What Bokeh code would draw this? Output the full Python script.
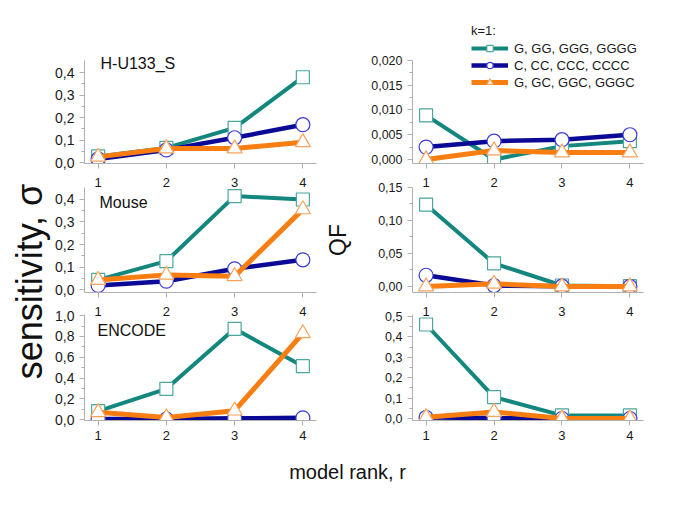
import numpy as np
from bokeh.plotting import figure
from bokeh.models import Range1d, FixedTicker, LinearAxis, Label, Legend, LegendItem
from bokeh.layouts import row, column
from bokeh.embed import file_html
from bokeh.resources import INLINE

# ---------------- data ----------------
ranks = [1, 2, 3, 4]
series_names = ["G, GG, GGG, GGGG", "C, CC, CCC, CCCC", "G, GC, GGC, GGGC"]
panel_names = ["H-U133_S", "Mouse", "ENCODE"]

# sensitivity (left column)
sens_hu133_g = [0.027, 0.065, 0.154, 0.379]
sens_hu133_c = [0.016, 0.056, 0.110, 0.168]
sens_hu133_gc = [0.025, 0.062, 0.062, 0.090]

sens_mouse_g = [0.043, 0.126, 0.415, 0.400]
sens_mouse_c = [0.018, 0.037, 0.092, 0.132]
sens_mouse_gc = [0.042, 0.065, 0.059, 0.356]

sens_encode_g = [0.080, 0.296, 0.874, 0.514]
sens_encode_c = [0.005, 0.004, 0.012, 0.016]
sens_encode_gc = [0.070, 0.020, 0.085, 0.830]

# QF (right column)
qf_hu133_g = [0.0089, 0.0000, 0.0027, 0.0037]
qf_hu133_c = [0.0025, 0.0037, 0.0040, 0.0050]
qf_hu133_gc = [0.0000, 0.0018, 0.0014, 0.0014]

qf_mouse_g = [0.124, 0.035, 0.0015, 0.0005]
qf_mouse_c = [0.017, 0.0015, 0.0005, 0.0]
qf_mouse_gc = [0.0, 0.004, 0.0, 0.0]

qf_encode_g = [0.461, 0.105, 0.015, 0.015]
qf_encode_c = [0.005, 0.002, 0.0, 0.0]
qf_encode_gc = [0.006, 0.032, 0.0, 0.0]

# tick values / labels
sens_ticks_a = [0.0, 0.1, 0.2, 0.3, 0.4]
sens_labels_a = ["0,0", "0,1", "0,2", "0,3", "0,4"]
sens_ticks_b = [0.0, 0.2, 0.4, 0.6, 0.8, 1.0]
sens_labels_b = ["0,0", "0,2", "0,4", "0,6", "0,8", "1,0"]
qf_ticks_1 = [0.0, 0.005, 0.010, 0.015, 0.020]
qf_labels_1 = ["0,000", "0,005", "0,010", "0,015", "0,020"]
qf_ticks_2 = [0.0, 0.05, 0.10, 0.15]
qf_labels_2 = ["0,00", "0,05", "0,10", "0,15"]
qf_ticks_3 = [0.0, 0.1, 0.2, 0.3, 0.4, 0.5]
qf_labels_3 = ["0,0", "0,1", "0,2", "0,3", "0,4", "0,5"]

y_title_left = "sensitivity, σ"
y_title_right = "QF"
x_title = "model rank, r"
legend_title = "k=1:"

# ---------------- style ----------------
FONT = "Liberation Sans"
COLORS = ["#13877e", "#0a0a96", "#f97e12"]
OUTLINES = ["#4aa79f", "#3a3ad6", "#f7a25a"]
MARKERS = ["square", "circle", "triangle"]
SIZES = [13, 14, 15]
WIDTHS = [4, 4.5, 5]
AXIS_COLOR = "#b0b0b0"
TEXT_COLOR = "#1a1a1a"

ROWS = [
    dict(height=170, top=60, bottom=7),
    dict(height=128, top=17, bottom=6),
    dict(height=150, top=16, bottom=28),
]
ABOVE_STANDOFF = [None, 1, -1]
NAME_POS = [(16, 100), (15, 90), (13, 90)]


def minors(ticks):
    return [(a + b) / 2 for a, b in zip(ticks[:-1], ticks[1:])]


def blank_axis(side_label, size, standoff):
    ax = LinearAxis(ticker=FixedTicker(ticks=[]))
    ax.axis_line_color = None
    ax.major_tick_out = 0
    ax.major_tick_in = 0
    ax.minor_tick_out = 0
    ax.minor_tick_in = 0
    ax.major_label_standoff = 0
    ax.axis_label = side_label
    ax.axis_label_standoff = standoff
    ax.axis_label_text_font = FONT
    ax.axis_label_text_font_size = size
    ax.axis_label_text_font_style = "normal"
    ax.axis_label_text_color = "#111111"
    return ax


def make_panel(col, r, y_range, ticks, labels, y_font, data, name=None,
               top=None, bounds=None, ylabel=None):
    spec = ROWS[r]
    if col == 0:
        w, bl, br = 270, 31, 6
    else:
        w, bl, br = 355, 88, 34
    p = figure(width=w, height=spec["height"], x_range=Range1d(0.8, 4.2),
               y_range=Range1d(*y_range), output_backend="svg",
               toolbar_location=None, x_axis_location=None, y_axis_location=None,
               min_border_left=bl, min_border_right=br,
               min_border_top=spec["top"] if top is None else top,
               min_border_bottom=spec["bottom"])
    p.outline_line_color = None
    p.grid.visible = False

    yax = LinearAxis(ticker=FixedTicker(ticks=ticks, minor_ticks=minors(ticks)),
                     major_label_overrides=dict(zip(ticks, labels)))
    if bounds is not None:
        yax.bounds = bounds
    yax.axis_line_color = AXIS_COLOR
    yax.major_tick_line_color = AXIS_COLOR
    yax.minor_tick_line_color = AXIS_COLOR
    yax.major_tick_in = 0
    yax.major_tick_out = 5
    yax.minor_tick_in = 0
    yax.minor_tick_out = 3
    yax.major_label_standoff = 5
    yax.major_label_text_font = FONT
    yax.major_label_text_font_size = y_font
    yax.major_label_text_color = TEXT_COLOR
    if ylabel is not None:
        yax.axis_label = ylabel
        yax.axis_label_standoff = 24
        yax.axis_label_text_font = FONT
        yax.axis_label_text_font_size = "23px"
        yax.axis_label_text_font_style = "normal"
        yax.axis_label_text_color = "#111111"
    p.add_layout(yax, "left")

    if r == 2:
        xax = LinearAxis(ticker=FixedTicker(ticks=ranks))
        xax.major_tick_in = 0
        xax.major_tick_out = 5
        xax.major_label_standoff = 5
    else:
        # tick marks only; the numbers are drawn by the panel below
        xax = LinearAxis(ticker=FixedTicker(ticks=[], minor_ticks=ranks))
        xax.minor_tick_in = 0
        xax.minor_tick_out = 5
        xax.major_label_standoff = 0
    xax.axis_line_color = AXIS_COLOR
    xax.major_tick_line_color = AXIS_COLOR
    xax.minor_tick_line_color = AXIS_COLOR
    xax.major_label_text_font = FONT
    xax.major_label_text_font_size = "13px"
    xax.major_label_text_color = TEXT_COLOR
    p.add_layout(xax, "below")

    if r > 0:
        # x tick numbers of the panel directly above
        aax = LinearAxis(ticker=FixedTicker(ticks=ranks))
        aax.axis_line_color = None
        aax.major_tick_line_color = None
        aax.minor_tick_line_color = None
        aax.major_tick_in = 0
        aax.major_tick_out = 0
        aax.major_label_standoff = ABOVE_STANDOFF[r]
        aax.major_label_text_font = FONT
        aax.major_label_text_font_size = "13px"
        aax.major_label_text_color = TEXT_COLOR
        p.add_layout(aax, "above")

    items = []
    for i, vals in enumerate(data):
        lr = p.line(ranks, vals, line_color=COLORS[i], line_width=WIDTHS[i])
        sr = p.scatter(ranks, vals, marker=MARKERS[i], size=SIZES[i],
                       fill_color="white", line_color=OUTLINES[i], line_width=1.2)
        items.append(LegendItem(label=series_names[i], renderers=[lr, sr]))

    if name is not None:
        p.add_layout(Label(x=NAME_POS[r][0], y=NAME_POS[r][1], x_units="screen",
                           y_units="screen", text=name, text_font=FONT,
                           text_font_size="16px", text_color="#111111",
                           text_baseline="alphabetic"))
    return p, items


L1, _ = make_panel(0, 0, (-0.0044, 0.72), sens_ticks_a, sens_labels_a, "14px",
                   [sens_hu133_g, sens_hu133_c, sens_hu133_gc], panel_names[0],
                   top=0, bounds=(-0.0044, 0.4533))
L2, _ = make_panel(0, 1, (-0.0133, 0.4533), sens_ticks_a, sens_labels_a, "14px",
                   [sens_mouse_g, sens_mouse_c, sens_mouse_gc], panel_names[1])
L3, _ = make_panel(0, 2, (-0.0096, 1.012), sens_ticks_b, sens_labels_b, "14px",
                   [sens_encode_g, sens_encode_c, sens_encode_gc], panel_names[2])
R1, leg_items = make_panel(1, 0, (-0.00081, 0.03212), qf_ticks_1, qf_labels_1, "12.5px",
                           [qf_hu133_g, qf_hu133_c, qf_hu133_gc],
                           top=0, bounds=(-0.00081, 0.0200))
R2, _ = make_panel(1, 1, (-0.0091, 0.15), qf_ticks_2, qf_labels_2, "12.5px",
                   [qf_mouse_g, qf_mouse_c, qf_mouse_gc], ylabel=y_title_right)
R3, _ = make_panel(1, 2, (-0.0098, 0.51), qf_ticks_3, qf_labels_3, "12.5px",
                   [qf_encode_g, qf_encode_c, qf_encode_gc])

legend = Legend(items=leg_items, location=(59, 73), title=legend_title)
legend.title_text_font = FONT
legend.title_text_font_size = "13px"
legend.title_text_font_style = "normal"
legend.title_text_color = TEXT_COLOR
legend.label_text_font = FONT
legend.label_text_font_size = "13px"
legend.label_text_color = TEXT_COLOR
legend.glyph_width = 37
legend.glyph_height = 16
legend.label_height = 16
legend.spacing = 1
legend.padding = 2
legend.margin = 0
legend.label_standoff = 6
legend.title_standoff = 2
legend.background_fill_alpha = 0
legend.border_line_color = None
R1.add_layout(legend)

# left title: a bare axis whose frame is a 1px strip on the right
ylab = figure(width=52, height=448, x_range=Range1d(0, 1), y_range=Range1d(0, 1),
              output_backend="svg", toolbar_location=None,
              x_axis_location=None, y_axis_location=None,
              min_border_left=51, min_border_right=0,
              min_border_top=114, min_border_bottom=0)
ylab.outline_line_color = None
ylab.grid.visible = False
ylab.add_layout(blank_axis(y_title_left, "36px", 2), "left")

# bottom title: a bare axis whose frame is a 1px strip at the top
xlab = figure(width=677, height=54, x_range=Range1d(0, 1), y_range=Range1d(0, 1),
              output_backend="svg", toolbar_location=None,
              x_axis_location=None, y_axis_location=None,
              min_border_left=17, min_border_right=0,
              min_border_top=0, min_border_bottom=53)
xlab.outline_line_color = None
xlab.grid.visible = False
xlab.add_layout(blank_axis(x_title, "20px", 11), "below")

layout = column(row(ylab, column(L1, L2, L3), column(R1, R2, R3)), xlab)

open("out.html", "w").write(file_html(layout, INLINE))
